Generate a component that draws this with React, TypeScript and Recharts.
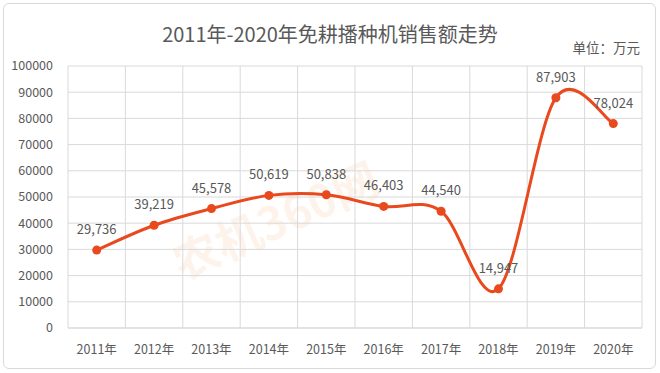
import React from "react";
import { LineChart, Line, XAxis, YAxis, CartesianGrid, LabelList } from "recharts";

const years = ["2011年", "2012年", "2013年", "2014年", "2015年", "2016年", "2017年", "2018年", "2019年", "2020年"];
const sales = [29736, 39219, 45578, 50619, 50838, 46403, 44540, 14947, 87903, 78024];
const yTicks = [0, 10000, 20000, 30000, 40000, 50000, 60000, 70000, 80000, 90000, 100000];

const LINE_COLOR = "#E8491D";
const FONT = "'Noto Sans CJK SC', 'Noto Sans', sans-serif";

const data = years.map((year, i) => ({ year, value: sales[i] }));

// Excel-like smoothed line (Catmull-Rom through the points)
function smoothCurve(context: any) {
  let pts: [number, number][] = [];
  return {
    areaStart() {},
    areaEnd() {},
    lineStart() {
      pts = [];
    },
    lineEnd() {
      if (!pts.length) return;
      context.moveTo(pts[0][0], pts[0][1]);
      for (let i = 0; i < pts.length - 1; i++) {
        const p0 = pts[i - 1] || pts[i];
        const p1 = pts[i];
        const p2 = pts[i + 1];
        const p3 = pts[i + 2] || p2;
        context.bezierCurveTo(
          p1[0] + (p2[0] - p0[0]) / 6,
          p1[1] + (p2[1] - p0[1]) / 6,
          p2[0] - (p3[0] - p1[0]) / 6,
          p2[1] - (p3[1] - p1[1]) / 6,
          p2[0],
          p2[1]
        );
      }
    },
    point(x: number, y: number) {
      pts.push([+x, +y]);
    },
  };
}

const renderLabel = (props: any) => {
  const { x, y, value } = props;
  return (
    <text x={x} y={y - 16} textAnchor="middle" fill="#595959" fontSize={13} fontFamily={FONT}>
      {Number(value).toLocaleString("en-US")}
    </text>
  );
};

export default function App() {
  return (
    <div
      style={{
        position: "absolute",
        left: 0,
        top: 0,
        width: 660,
        height: 373,
        background: "#fff",
        fontFamily: FONT,
        overflow: "hidden",
      }}
    >
      <div
        style={{
          position: "absolute",
          left: 3,
          top: 3,
          width: 651,
          height: 364,
          border: "1px solid #d9d9d9",
          borderRadius: 6,
        }}
      />
      {/* faint watermark */}
      <div
        style={{
          position: "absolute",
          left: 165,
          top: 185,
          fontSize: 46,
          fontWeight: 700,
          color: "rgba(244,160,90,0.13)",
          transform: "rotate(-24deg)",
          whiteSpace: "nowrap",
          pointerEvents: "none",
        }}
      >
        农机360网
      </div>
      <div
        style={{
          position: "absolute",
          left: 0,
          right: 0,
          top: 19,
          textAlign: "center",
          fontSize: 20,
          color: "#595959",
        }}
      >
        2011年-2020年免耕播种机销售额走势
      </div>
      <div
        style={{
          position: "absolute",
          right: 20,
          top: 37,
          fontSize: 13.5,
          color: "#595959",
        }}
      >
        单位：万元
      </div>
      <div style={{ position: "absolute", left: 0, top: 0 }}>
        <LineChart width={660} height={373} data={data} margin={{ top: 66, right: 18, bottom: 0, left: 0 }}>
          <CartesianGrid
            stroke="#d9d9d9"
            verticalCoordinatesGenerator={({ offset }: any) =>
              years.map((_, i) => offset.left + (i * offset.width) / years.length).concat(offset.left + offset.width)
            }
          />
          <XAxis
            dataKey="year"
            scale="band"
            axisLine={{ stroke: "#d9d9d9" }}
            tickLine={false}
            tickSize={0}
            tickMargin={17}
            height={45}
            interval={0}
            tick={{ fill: "#595959", fontSize: 12.5, fontFamily: FONT }}
          />
          <YAxis
            domain={[0, 100000]}
            ticks={yTicks}
            axisLine={false}
            tickLine={false}
            tickSize={0}
            tickMargin={15}
            width={68}
            tick={{ fill: "#595959", fontSize: 12.5, fontFamily: FONT }}
          />
          <Line
            dataKey="value"
            type={smoothCurve as any}
            stroke={LINE_COLOR}
            strokeWidth={3}
            dot={{ r: 4.5, fill: LINE_COLOR, stroke: LINE_COLOR, strokeWidth: 0 }}
            activeDot={false}
            isAnimationActive={false}
          >
            <LabelList dataKey="value" content={renderLabel} />
          </Line>
        </LineChart>
      </div>
    </div>
  );
}
